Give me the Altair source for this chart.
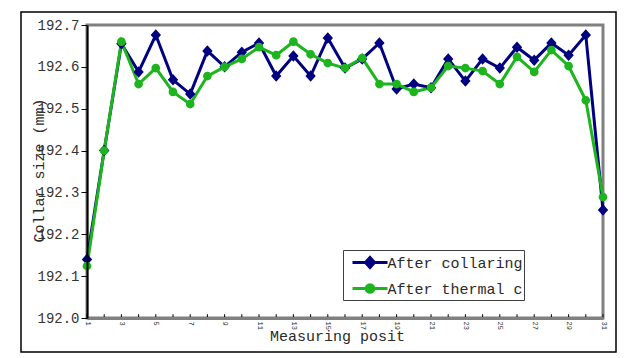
import altair as alt
import pandas as pd

positions = list(range(1, 32))
after_collaring = [192.14, 192.40, 192.655, 192.588, 192.676, 192.569, 192.535, 192.638, 192.600, 192.635,
                   192.657, 192.578, 192.626, 192.578, 192.669, 192.597, 192.619, 192.657, 192.547, 192.559,
                   192.550, 192.619, 192.566, 192.619, 192.597, 192.647, 192.616, 192.657, 192.628, 192.676,
                   192.258]
after_thermal = [192.124, 192.40, 192.660, 192.559, 192.597, 192.540, 192.511, 192.578, 192.600, 192.619,
                 192.647, 192.628, 192.660, 192.630, 192.609, 192.597, 192.621, 192.559, 192.559, 192.540,
                 192.550, 192.602, 192.597, 192.590, 192.559, 192.624, 192.588, 192.640, 192.602, 192.520,
                 192.289]
series_names = ["After collaring", "After thermal c"]
series_colors = ["#000080", "#1DB51D"]
y_ticks = [192.0, 192.1, 192.2, 192.3, 192.4, 192.5, 192.6, 192.7]

rows = []
for name, vals in zip(series_names, [after_collaring, after_thermal]):
    for p, v in zip(positions, vals):
        rows.append({"pos": p, "value": v, "series": name})
df = pd.DataFrame(rows)
ticks_df = pd.DataFrame({"pos": positions})
one = pd.DataFrame({"a": [0]})

MONO = "Liberation Mono"
diamond = "M-1.75,0L1.75,0M0,-0.5L0.45,0L0,0.5L-0.45,0Z"
circle = "M-1.75,0L1.75,0M0.38,0A0.38,0.38 0 1,1 -0.38,0A0.38,0.38 0 1,1 0.38,0Z"

xscale = alt.Scale(domain=[1, 31], nice=False, zero=False)
yscale = alt.Scale(domain=[192.0, 192.7], nice=False, zero=False)

legend = alt.Legend(
    orient="none", legendX=256, legendY=225, title=None,
    fillColor="white", strokeColor="#404040", padding=1,
    labelFont=MONO, labelFontSize=15, labelColor="#2a2a2a", labelLimit=136,
    symbolSize=400, symbolOffset=14.5, labelOffset=6, rowPadding=3,
    symbolStrokeWidth=3,
)

xaxis = alt.Axis(
    values=positions,
    labelExpr="datum.value % 2 == 1 ? datum.label : ''",
    labelAngle=90, labelAlign="left", labelBaseline="middle",
    labelFont=MONO, labelFontSize=7, labelColor="#333333", labelPadding=3,
    ticks=False, grid=False, domainColor="#808080", domainWidth=3,
    title="Measuring posit", titleFont=MONO, titleFontSize=15, titleFontWeight="normal",
    titleColor="#2a2a2a", titleX=250, titleY=22, titleAlign="center", titleBaseline="alphabetic",
    zindex=1,
)
yaxis = alt.Axis(
    values=y_ticks, format=".1f",
    labelFont=MONO, labelFontSize=14, labelColor="#333333", labelPadding=2,
    tickSize=6, tickColor="black", domainColor="black", domainWidth=2, grid=False,
    title="Collar size (mm)", titleFont=MONO, titleFontSize=15, titleFontWeight="normal",
    titleColor="#2a2a2a", titleAngle=-90, titleX=-44, titleY=145, titleAlign="center",
    titleBaseline="alphabetic", zindex=1,
)

outer = alt.Chart(one).mark_rect(fill="white", stroke="black", strokeWidth=1.5).encode(
    x=alt.value(-66), x2=alt.value(529), y=alt.value(-13), y2=alt.value(327))

frame = alt.Chart(one).mark_rect(fill="white", stroke="#808080", strokeWidth=3).encode(
    x=alt.X(datum=1, scale=xscale, axis=xaxis, type="quantitative"), x2=alt.X2(datum=31),
    y=alt.Y(datum=192.0, scale=yscale, axis=yaxis, type="quantitative"), y2=alt.Y2(datum=192.7))

xticks = alt.Chart(ticks_df).mark_rule(color="black", strokeWidth=1).encode(
    x=alt.X("pos:Q", scale=xscale, axis=xaxis),
    y=alt.Y(datum=192.0, scale=yscale, axis=yaxis, type="quantitative"),
    y2=alt.Y2(datum=192.009))

color = alt.Color("series:N", scale=alt.Scale(domain=series_names, range=series_colors), legend=legend)
shape = alt.Shape("series:N", scale=alt.Scale(domain=series_names, range=[diamond, circle]), legend=legend)

lines = alt.Chart(df).mark_line(strokeWidth=3).encode(
    x=alt.X("pos:Q", scale=xscale, axis=xaxis),
    y=alt.Y("value:Q", scale=yscale, axis=yaxis),
    color=color, order="series:N")

points = alt.Chart(df).mark_point(filled=True, size=529, opacity=1).encode(
    x=alt.X("pos:Q", scale=xscale, axis=xaxis),
    y=alt.Y("value:Q", scale=yscale, axis=yaxis),
    color=color, shape=shape)

chart = alt.layer(outer, frame, xticks, lines, points).properties(
    width=516, height=293,
    autosize=alt.AutoSizeParams(type="none"),
    padding={"left": 87, "top": 25, "right": 37, "bottom": 40},
    background="white",
).configure_view(stroke=None)

chart.save("out.html", embed_options={"renderer": "svg", "actions": False})
